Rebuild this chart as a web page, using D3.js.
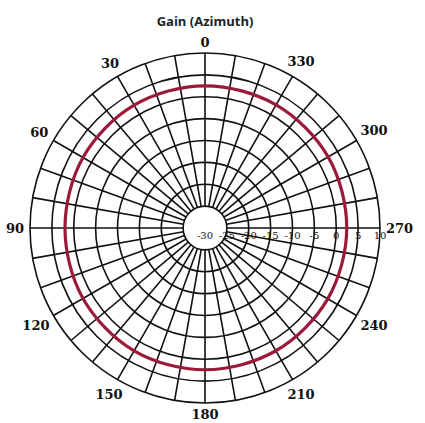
<!DOCTYPE html>
<html>
<head>
<meta charset="utf-8">
<script src="https://cdn.jsdelivr.net/npm/d3@7"></script>
<style>
  html, body { margin: 0; padding: 0; background: #ffffff; }
  svg { display: block; }
</style>
</head>
<body>
<svg id="chart" width="425" height="423"></svg>
<script>
// ---- data ----
const angleTicks = [0, 30, 60, 90, 120, 150, 180, 210, 240, 270, 300, 330];
const radialTicks = [-30, -25, -20, -15, -10, -5, 0, 5, 10];
const ringValues = [-25, -20, -15, -10, -5, 0, 5, 10];
const spokeAngles = d3.range(0, 360, 10);
const gainAngles = [0, 30, 60, 90, 120, 150, 180, 210, 240, 270, 300, 330];
const gainValues = [2.5, 2.4, 2.2, 2.0, 2.2, 2.4, 2.4, 2.4, 2.4, 2.4, 2.5, 2.5];
const title = "Gain (Azimuth)";

// ---- layout ----
const cx = 205, cy = 228, R = 175;
const svg = d3.select("#chart");
const g = svg.append("g").attr("transform", `translate(${cx},${cy})`);

const r = d3.scaleLinear().domain([-30, 10]).range([0, R]);
const rad = a => -a * Math.PI / 180; // counter-clockwise, 0 at top

// spokes
g.selectAll("line.spoke").data(spokeAngles).join("line")
  .attr("class", "spoke")
  .attr("x1", d => r(-25) * Math.sin(rad(d)))
  .attr("y1", d => -r(-25) * Math.cos(rad(d)))
  .attr("x2", d => R * Math.sin(rad(d)))
  .attr("y2", d => -R * Math.cos(rad(d)))
  .attr("stroke", "#111").attr("stroke-width", 1.6);

// rings
g.selectAll("circle.ring").data(ringValues).join("circle")
  .attr("class", "ring")
  .attr("r", d => r(d))
  .attr("fill", "none").attr("stroke", "#111").attr("stroke-width", 1.6);

// gain curve
const line = d3.lineRadial()
  .angle((d, i) => rad(gainAngles[i]))
  .radius(d => r(d))
  .curve(d3.curveCardinalClosed);
g.append("path").datum(gainValues)
  .attr("d", line)
  .attr("fill", "none").attr("stroke", "#9b1a3a").attr("stroke-width", 3.2);

// radial tick labels
g.selectAll("text.rt").data(radialTicks).join("text")
  .attr("class", "rt")
  .attr("x", d => r(d))
  .attr("y", 11)
  .attr("text-anchor", "middle")
  .attr("font-family", "DejaVu Serif, serif")
  .attr("font-size", 10)
  .attr("fill", "#111")
  .text(d => d);

// angle labels: placed just outside the outer ring, offset by their own size
const at = g.selectAll("text.at").data(angleTicks).join("text")
  .attr("class", "at")
  .attr("text-anchor", "middle")
  .attr("dy", "0.36em")
  .attr("font-family", "DejaVu Serif, serif")
  .attr("font-weight", "bold")
  .attr("font-size", 13)
  .attr("fill", "#111")
  .text(d => d);
at.each(function(d) {
  const w = this.getComputedTextLength();
  const a = rad(d);
  const s = Math.sin(a), c = Math.cos(a);
  const lr = R + 6 + Math.abs(s) * w / 2 + Math.abs(c) * 5;
  d3.select(this).attr("x", lr * s).attr("y", -lr * c);
});

// title
svg.append("text")
  .attr("x", 205).attr("y", 26)
  .attr("text-anchor", "middle")
  .attr("font-family", "Open Sans, sans-serif")
  .attr("font-weight", "bold")
  .attr("font-size", 13)
  .attr("fill", "#222")
  .text(title);
</script>
</body>
</html>
